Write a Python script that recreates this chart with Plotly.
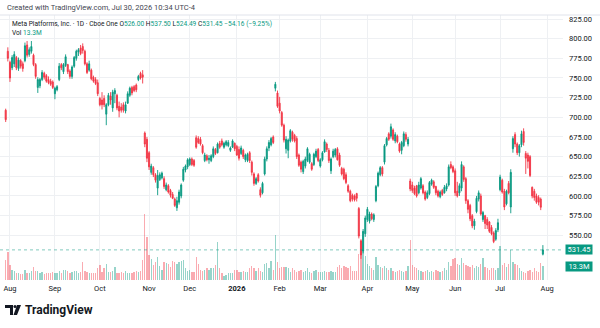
import plotly.graph_objects as go
import pandas as pd

# ---------------- data ----------------
holidays = ["2025-09-01", "2025-11-27", "2025-12-25", "2026-01-01", "2026-01-19",
            "2026-02-16", "2026-04-03", "2026-05-25", "2026-06-19", "2026-07-03"]
month_names = ["Jan", "Feb", "Mar", "Apr", "May", "Jun", "Jul", "Aug", "Sep", "Oct", "Nov", "Dec"]

open_ = [709, 784, 770, 763, 768, 776, 762, 772, 768, 772, 792, 780, 784, 779, 767, 738, 740, 748, 756, 753,
         748, 746, 745, 730, 735, 748, 767, 758, 766, 767, 759, 752, 765, 775, 783, 788, 790, 784, 768, 760,
         760, 751, 748, 744, 724, 722, 724, 704, 716, 727, 712, 730, 728, 714, 713, 716, 708, 718, 728, 738,
         739, 741, 748, 756, 754, 680, 672, 655, 630, 636, 627, 610, 621, 623, 622, 608, 613, 607, 602, 596,
         585, 592, 600, 620, 633, 637, 640, 647, 645, 674, 673, 672, 664, 645, 651, 646, 645, 650, 659, 655,
         667, 670, 662, 665, 664, 658, 662, 667, 663, 659, 654, 658, 646, 645, 655, 643, 628, 616, 627, 608,
         604, 628, 647, 661, 665, 675, 737, 731, 718, 706, 690, 660, 658, 670, 681, 677, 673, 652, 643, 631,
         638, 645, 643, 641, 640, 650, 659, 638, 646, 656, 666, 658, 632, 650, 652, 660, 652, 635, 634, 627,
         613, 606, 601, 600, 603, 584, 543, 530, 552, 570, 568, 577, 570, 594, 613, 627, 636, 643, 665, 679,
         676, 684, 670, 676, 666, 658, 664, 678, 666, 619, 614, 610, 613, 604, 610, 613, 605, 598, 603, 615,
         618, 612, 606, 599, 607, 604, 609, 614, 640, 637, 632, 606, 604, 610, 637, 622, 594, 588, 575, 562,
         580, 596, 600, 570, 575, 570, 567, 560, 553, 545, 557, 608, 620, 606, 590, 616, 586, 660, 678, 666,
         655, 665, 682, 654, 652, 650, 611, 606, 600, 598, 596, 526]
high = [711, 789, 772, 779, 784, 778, 776, 774, 771, 795, 797, 789, 797, 781, 769, 751, 750, 760, 758, 755,
        752, 749, 747, 739, 741, 769, 769, 769, 780, 768, 761, 766, 778, 786, 788, 792, 794, 786, 770, 772,
        762, 753, 751, 748, 726, 732, 728, 718, 731, 732, 735, 737, 730, 720, 718, 719, 720, 733, 739, 740,
        741, 743, 754, 758, 760, 682, 675, 657, 641, 638, 629, 633, 630, 631, 625, 617, 615, 609, 605, 598,
        599, 608, 616, 637, 640, 648, 649, 649, 647, 677, 676, 675, 666, 655, 653, 652, 653, 663, 661, 668,
        670, 673, 669, 671, 671, 663, 672, 668, 665, 663, 664, 660, 654, 655, 657, 645, 630, 624, 629, 611,
        618, 650, 663, 671, 675, 677, 745, 734, 726, 708, 692, 676, 673, 685, 683, 679, 676, 654, 645, 646,
        650, 662, 655, 643, 655, 660, 661, 648, 657, 672, 668, 661, 649, 660, 661, 662, 655, 637, 636, 630,
        615, 608, 603, 602, 604, 586, 545, 558, 575, 586, 580, 579, 578, 614, 631, 638, 638, 666, 675, 681,
        692, 686, 681, 678, 668, 670, 682, 681, 675, 622, 618, 613, 614, 618, 624, 615, 607, 607, 619, 622,
        620, 613, 608, 607, 609, 614, 616, 640, 644, 639, 635, 618, 616, 644, 639, 624, 596, 590, 577, 571,
        600, 607, 603, 581, 576, 573, 568, 563, 555, 559, 571, 627, 622, 609, 608, 619, 634, 676, 681, 668,
        666, 683, 686, 657, 655, 652, 612, 609, 603, 601, 598, 537.5]
low = [694, 771, 745, 760, 764, 760, 759, 762, 758, 770, 776, 777, 781, 765, 749, 731, 737, 746, 748, 744,
       742, 740, 736, 723, 733, 746, 760, 755, 764, 755, 749, 749, 763, 772, 778, 779, 781, 766, 755, 758,
       747, 744, 741, 727, 714, 710, 713, 690, 714, 716, 707, 718, 709, 700, 706, 706, 705, 717, 726, 728,
       732, 732, 746, 748, 743, 662, 643, 633, 627, 624, 617, 601, 619, 621, 609, 606, 603, 598, 596, 586,
       581, 589, 597, 618, 630, 634, 638, 638, 637, 660, 666, 664, 653, 643, 644, 641, 643, 648, 652, 654,
       660, 663, 660, 663, 662, 656, 661, 657, 651, 645, 652, 647, 643, 643, 642, 626, 613, 614, 617, 598,
       602, 626, 644, 657, 663, 666, 733, 712, 705, 688, 668, 654, 648, 668, 669, 668, 647, 637, 630, 628,
       635, 643, 641, 632, 638, 648, 643, 636, 644, 655, 656, 642, 628, 648, 649, 645, 637, 626, 620, 615,
       604, 592, 593, 593, 593, 546, 520, 527, 548, 567, 565, 569, 567, 592, 611, 625, 625, 640, 663, 670,
       673, 670, 667, 667, 655, 653, 662, 669, 663, 606, 604, 601, 598, 602, 608, 602, 594, 596, 601, 613,
       609, 601, 598, 597, 600, 603, 606, 612, 634, 629, 600, 598, 600, 606, 618, 590, 578, 568, 559, 557,
       578, 593, 575, 567, 558, 558, 553, 550, 540, 543, 554, 606, 603, 582, 588, 602, 578, 655, 662, 652,
       650, 662, 664, 628, 635, 624, 597, 594, 590, 588, 582, 524.49]
close = [697, 775, 750, 776, 780, 763, 773, 765, 762, 791, 779, 786, 790, 767, 752, 748, 748, 757, 751, 746,
         744, 742, 738, 737, 739, 765, 763, 767, 777, 758, 752, 764, 776, 784, 786, 781, 785, 768, 757, 768,
         749, 746, 743, 730, 716, 716, 716, 716, 728, 722, 732, 734, 712, 708, 709, 709, 716, 730, 737, 731,
         734, 735, 752, 750, 751, 666, 648, 637, 638, 627, 620, 626, 627, 629, 612, 614, 605, 601, 597, 588,
         594, 605, 614, 634, 638, 646, 647, 640, 639, 662, 668, 666, 655, 652, 646, 648, 651, 660, 654, 666,
         662, 665, 667, 669, 668, 661, 670, 660, 652, 648, 661, 650, 652, 653, 645, 630, 616, 622, 619, 601,
         616, 647, 660, 668, 673, 668, 742, 714, 708, 690, 671, 672, 671, 683, 672, 670, 650, 639, 634, 644,
         647, 660, 653, 634, 653, 657, 645, 646, 655, 669, 659, 645, 647, 657, 659, 646, 639, 628, 622, 617,
         606, 594, 596, 595, 597, 549, 525, 555, 572, 583, 577, 571, 576, 612, 629, 636, 628, 664, 673, 672,
         688, 672, 678, 669, 657, 668, 679, 672, 672, 609, 607, 603, 600, 614, 622, 604, 596, 604, 617, 620,
         611, 604, 600, 605, 602, 611, 613, 637, 636, 631, 604, 600, 613, 640, 621, 594, 583, 571, 562, 568,
         597, 604, 577, 579, 565, 563, 555, 552, 542, 556, 566, 624, 605, 586, 606, 604, 630, 673, 666, 655,
         664, 679, 668, 648, 644, 626, 600, 598, 592, 592, 585.61, 531.45]
volume_m = [19, 27,
            14, 10, 9, 7, 7, 6, 6, 10, 7, 7, 9, 12, 9, 9, 7, 8, 6, 7, 7, 7, 8,
            7, 7, 9, 7, 10, 10, 9, 7, 8, 9, 9, 7, 8, 17, 9, 8, 7, 7, 7, 7, 11,
            14, 8, 11, 15, 8, 8, 9, 12, 7, 7, 8, 7, 9, 7, 7, 7, 8, 9, 8, 9, 19, 63, 41,
            24, 20, 14, 17, 22, 13, 10, 17, 16, 15, 12, 18, 17, 15, 17, 18, 19, 11, 9,
            10, 8, 8, 22, 15, 10, 9, 10, 11, 10, 11, 11, 14, 36, 11, 7, 4, 5, 7, 7, 7, 10,
            10, 8, 8, 9, 8, 8, 11, 13, 11, 9, 11, 9, 8, 15, 16, 11, 18, 10, 43, 17,
            11, 12, 12, 12, 11, 8, 11, 10, 8, 9, 10, 8, 9, 11, 8, 7, 9, 10, 8,
            8, 8, 9, 8, 8, 9, 8, 8, 12, 14, 11, 13, 12, 11, 13, 9, 9, 9, 25, 37, 29, 23,
            15, 13, 11, 10, 22, 14, 12, 11, 13, 11, 10, 11, 9, 8, 9, 10, 9, 8, 9, 13, 38,
            14, 12, 11, 10, 9, 8, 9, 10, 8, 9, 8, 10, 9, 8, 9, 11, 10, 17, 13, 20,
            21, 15, 14, 21, 16, 14, 13, 12, 14, 11, 13, 12, 15, 21, 12, 11, 10, 11, 11, 10, 11,
            32, 14, 16, 12, 15, 29, 17, 15, 14, 11, 9, 8, 7, 9, 10, 8, 11, 9, 8, 16, 13.3]
price_ticks = [550, 575, 600, 625, 650, 675, 700, 725, 750, 775, 800, 825]
last_price = 531.45
last_volume_label = "13.3M"

# ---------------- calendar ----------------
days = pd.bdate_range("2025-07-30", "2026-08-03", freq="C", holidays=holidays)
n = len(close)
xi = list(range(n))
tickvals, ticktext = [], []
for i in range(1, len(days)):
    if days[i].month != days[i - 1].month:
        tickvals.append(i)
        ticktext.append("<b>%d</b>" % days[i].year if days[i].month == 1 else month_names[days[i].month - 1])

UP, DOWN = "#089981", "#f23645"
UP_V, DOWN_V = "rgba(8,153,129,0.42)", "rgba(242,54,69,0.42)"
vol_colors = [UP_V if c >= o else DOWN_V for o, c in zip(open_, close)]

W, H = 600, 328
PLOT_R = 563          # right edge of pane (px)
TOP, BOT = 15, 280    # pane top / bottom (px)
px = lambda v: v / W
py = lambda v: 1 - v / H

fig = go.Figure()
fig.add_trace(go.Bar(x=xi, y=volume_m, marker=dict(color=vol_colors, line_width=0),
                     width=0.62, yaxis="y", hoverinfo="skip"))
fig.add_trace(go.Candlestick(x=xi, open=open_, high=high, low=low, close=close, yaxis="y2",
                             increasing=dict(line=dict(color=UP, width=0.9), fillcolor=UP),
                             decreasing=dict(line=dict(color=DOWN, width=0.9), fillcolor=DOWN),
                             whiskerwidth=0, hoverinfo="skip"))

grid = "#eef0f3"
font = "Roboto, Arial, sans-serif"
fig.update_layout(
    width=W, height=H, margin=dict(l=0, r=0, t=0, b=0),
    paper_bgcolor="white", plot_bgcolor="white", showlegend=False,
    bargap=0, font=dict(family=font, size=7.5, color="#131722"),
    xaxis=dict(domain=[0, px(PLOT_R)], range=[-2.66, 260.4], tickvals=tickvals, ticktext=ticktext,
               showgrid=True, gridcolor=grid, gridwidth=1, zeroline=False, showline=False,
               ticks="", tickfont=dict(size=7.5, color="#131722"), rangeslider=dict(visible=False),
               ticklabelstandoff=2),
    yaxis=dict(domain=[py(BOT), py(TOP)], range=[0, (BOT - TOP) / 1.05], visible=False,
               showgrid=False, zeroline=False),
    yaxis2=dict(overlaying="y", side="right", range=[493.15, 830.09], tickvals=price_ticks,
                tickformat=".2f", showgrid=True, gridcolor=grid, gridwidth=1, zeroline=False,
                showline=False, ticks="", tickfont=dict(size=7.5, color="#131722"),
                ticklabelstandoff=5),
)

# last price dotted line
fig.add_shape(type="line", xref="paper", yref="y2", x0=0, x1=px(PLOT_R), y0=last_price, y1=last_price,
              line=dict(color=UP, width=1, dash="dot"), opacity=0.5)
# frame line under header
fig.add_shape(type="line", xref="paper", yref="paper", x0=0, x1=1, y0=py(TOP), y1=py(TOP),
              line=dict(color="#e0e3eb", width=1))

# price / volume boxes
fig.add_annotation(xref="paper", yref="y2", x=px(565), y=last_price, text="%.2f" % last_price,
                   showarrow=False, xanchor="left", yanchor="middle", bgcolor=UP, width=25, height=8,
                   borderpad=0.5, font=dict(size=7.5, color="white", family=font))
fig.add_annotation(xref="paper", yref="y", x=px(565), y=volume_m[-1], text=last_volume_label,
                   showarrow=False, xanchor="left", yanchor="middle", bgcolor=UP, width=25, height=8,
                   borderpad=0.5, font=dict(size=7.5, color="white", family=font))

# header texts
fig.add_annotation(xref="paper", yref="paper", x=px(5), y=py(7), xanchor="left", yanchor="middle",
                   showarrow=False, text="Created with TradingView.com, Jul 30, 2026 10:34 UTC-4",
                   font=dict(size=7.5, color="#434651", family=font))
legend = ("Meta Platforms, Inc. · 1D · Cboe One "
          "O<span style='color:%s'>526.00</span> H<span style='color:%s'>537.50</span> "
          "L<span style='color:%s'>524.49</span> C<span style='color:%s'>531.45</span> "
          "<span style='color:%s'>−54.16 (−9.25%%)</span>") % (UP, UP, UP, UP, UP)
fig.add_annotation(xref="paper", yref="paper", x=px(10), y=py(23.5), xanchor="left", yanchor="middle",
                   showarrow=False, text=legend, font=dict(size=6.6, color="#131722", family=font))
fig.add_annotation(xref="paper", yref="paper", x=px(10), y=py(32.5), xanchor="left", yanchor="middle",
                   showarrow=False, text="Vol <span style='color:%s'>13.3M</span>" % UP,
                   font=dict(size=6.6, color="#131722", family=font))

# TradingView logo
fig.add_shape(type="path", xref="paper", yref="paper",
              path="M %f %f L %f %f L %f %f L %f %f L %f %f L %f %f Z" % (
                  px(5), py(305), px(13), py(305), px(13), py(315), px(10), py(315), px(10), py(308), px(5), py(308)),
              fillcolor="#131722", line_width=0)
fig.add_shape(type="circle", xref="paper", yref="paper", x0=px(13.5), x1=px(16.5), y0=py(308), y1=py(305),
              fillcolor="#131722", line_width=0)
fig.add_shape(type="path", xref="paper", yref="paper",
              path="M %f %f L %f %f L %f %f L %f %f Z" % (px(17), py(305), px(21), py(305), px(17), py(315), px(13.5), py(315)),
              fillcolor="#131722", line_width=0)
fig.add_annotation(xref="paper", yref="paper", x=px(23), y=py(310), xanchor="left", yanchor="middle",
                   showarrow=False, text="<b>TradingView</b>", font=dict(size=12, color="#131722", family=font))

fig.write_html("out.html")
